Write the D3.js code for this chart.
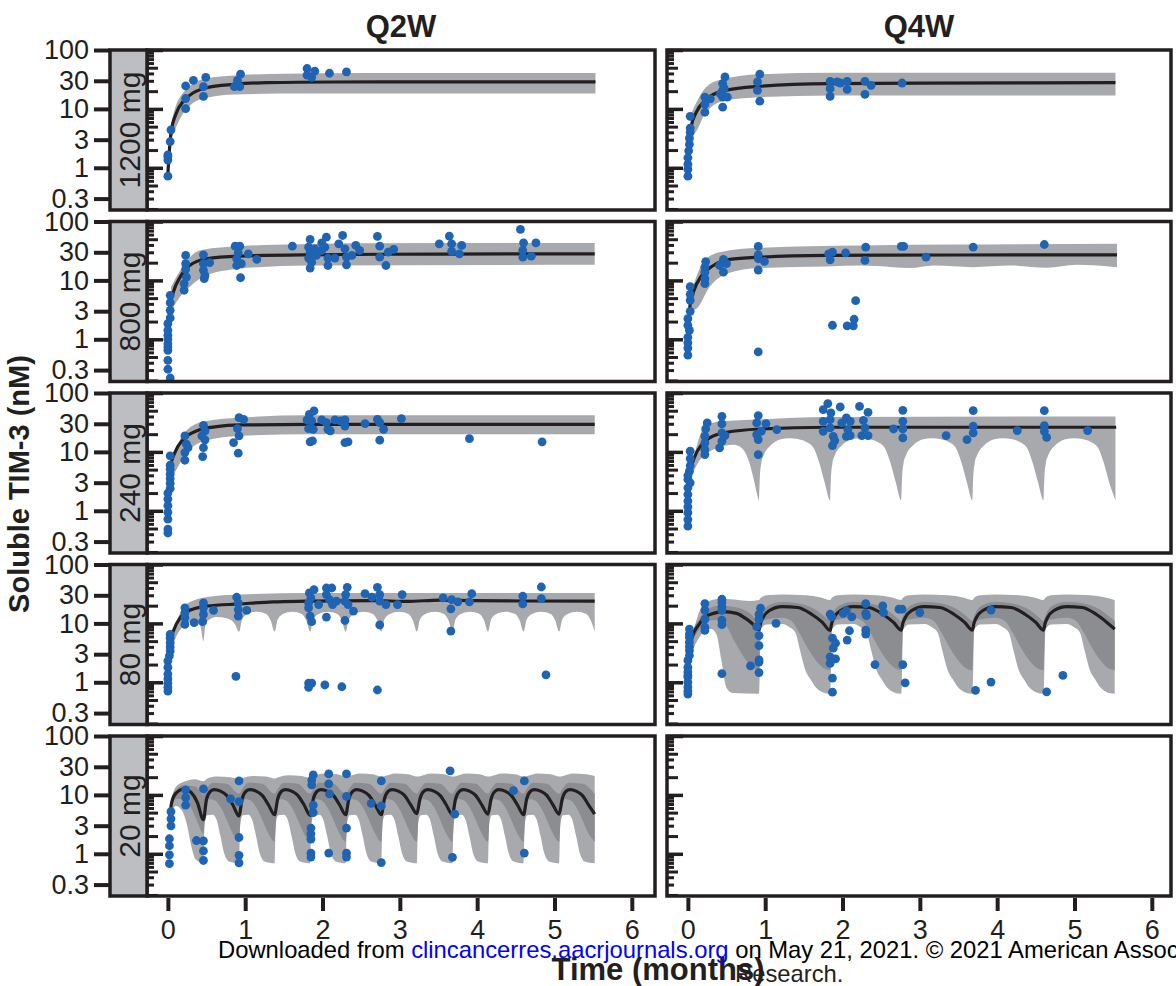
<!DOCTYPE html>
<html>
<head>
<meta charset="utf-8">
<script src="https://cdn.jsdelivr.net/npm/d3@7"></script>
<style>
body { margin: 0; background: #fff; }
svg { display: block; }
text { font-family: "Liberation Sans", Arial, sans-serif; fill: #231f20; }
</style>
</head>
<body>
<div id="chart"></div>
<script>
// facets
const doses = ["1200 mg", "800 mg", "240 mg", "80 mg", "20 mg"];
const regimens = ["Q2W", "Q4W"];

// axis ticks
const yLabelTicks = [0.3, 1, 3, 10, 30, 100];
const yMajorIn = [1, 10, 100];
const yMidIn = [0.2, 0.5, 2, 5, 20, 50];
const yMinorIn = [0.3, 0.4, 0.6, 0.7, 0.8, 0.9, 3, 4, 6, 7, 8, 9, 30, 40, 60, 70, 80, 90];
const xTicks = [0, 1, 2, 3, 4, 5, 6];

// ---- 1200 mg Q2W ----
const obs1200q2 = [[0,0.72],[0,1.35],[0,1.65],[0,1.54],[0.03,2.79],[0.04,4.42],[0.23,10.1],[0.23,15.0],[0.23,24.5],[0.33,30.6],[0.46,23.8],[0.46,16.3],[0.49,34.4],[0.86,23.8],[0.90,30.6],[0.93,23.8],[0.94,38.8],[1.80,48.5],[1.80,37.3],[1.86,34.4],[1.90,43.7],[2.09,40.3],[2.31,42.5]];
const med1200q2 = [[0,0.8],[0.02,2.0],[0.04,3.9],[0.11,8.5],[0.2,13.5],[0.33,18.8],[0.5,22.9],[0.85,26.1],[1.28,27.9],[2.14,28.6],[3.5,28.7],[5.53,28.7]];
const hi1200q2 = [[0.04,5.5],[0.1,11],[0.2,19],[0.33,27],[0.5,33],[0.85,37],[1.5,39.5],[2.5,40.5],[5.53,40.5]];
const lo1200q2 = [[0.04,3.0],[0.11,5.0],[0.2,8.5],[0.33,12.7],[0.5,15.4],[0.85,17.6],[1.7,18.2],[2.5,18.2],[5.53,18.2]];

// ---- 1200 mg Q4W ----
const obs1200q4 = [[0,0.72],[0,0.94],[0,1.14],[0,1.48],[0.01,1.94],[0.02,2.5],[0.02,3.18],[0.03,3.98],[0.03,4.72],[0.03,7.49],[0.22,8.77],[0.22,11.9],[0.22,15.8],[0.29,14.8],[0.45,10.7],[0.45,15.8],[0.45,20.6],[0.45,26.8],[0.48,34.9],[0.51,15.8],[0.42,18.0],[0.47,22.5],[0.93,13.5],[0.90,20.6],[0.90,28.7],[0.93,38.8],[1.84,16.3],[1.84,22.0],[1.84,29.4],[1.93,28.7],[1.97,27.5],[2.06,21.4],[2.06,29.4],[2.29,17.6],[2.29,29.4],[2.37,25.1],[2.77,27.5]];
const med1200q4 = [[0,0.94],[0.04,4.85],[0.11,8.8],[0.22,13.9],[0.48,20.6],[0.93,24.2],[1.84,26.8],[3,27.3],[5.53,27.9]];
const hi1200q4 = [[0.04,8.2],[0.2,20.6],[0.4,30.6],[0.93,38.8],[1.86,40.9],[5.53,41]];
const lo1200q4 = [[0.04,3.5],[0.1,4],[0.22,8.2],[0.48,13.9],[0.93,15.8],[1.86,16.9],[5.53,16.9]];

// ---- 800 mg Q2W ----
const obs800q2 = [[0.03,5.57],[0.03,4.18],[0.03,3.1],[0.03,2.3],[0,1.84],[0,1.42],[0,1.17],[0,1.0],[0,0.84],[0,0.65],[0,0.44],[0,0.31],[0.03,0.22],[0,0.74],
  [0.23,26.5],[0.23,19.2],[0.23,15.4],[0.24,11.4],[0.21,8.8],[0.21,6.8],
  [0.46,27.2],[0.46,19.2],[0.46,14.8],[0.48,12.1],[0.47,10.7],[0.54,20.0],
  [0.87,38.1],[0.93,38.1],[0.91,29.4],[0.89,23.3],[0.89,17.9],[0.95,19.2],[0.94,11.1],[1.04,28.3],[1.15,22.7],
  [1.61,38.1],
  [1.84,49.5],[1.82,36.7],[1.84,30.2],[1.82,23.9],[1.86,20.4],[1.84,16.2],[1.90,34.4],[1.92,26.5],
  [1.99,43.5],[2.05,54.2],[2.03,36.7],[1.99,32.2],[2.07,23.9],[2.07,17.9],[2.16,23.9],[2.21,41.7],[2.26,57.9],[2.29,34.4],[2.31,24.8],[2.31,18.4],[2.38,26.5],[2.43,39.2],[2.48,32.2],
  [2.71,55.8],[2.74,38.1],[2.74,24.8],[2.82,17.9],[2.85,30.2],[2.92,33.5],
  [3.51,41.7],[3.64,56.5],[3.67,41.7],[3.67,31.0],[3.77,28.3],[3.80,39.2],
  [4.56,73.3],[4.60,43.5],[4.59,32.2],[4.59,24.8],[4.70,25.8],[4.76,43.5]];
const med800q2 = [[0.02,2.5],[0.03,3.77],[0.07,6.3],[0.16,11.4],[0.28,17.9],[0.5,23.3],[0.93,25.8],[1.8,27.2],[3.5,28],[5.52,28.3]];
const hi800q2 = [[0.04,7.7],[0.2,17.9],[0.41,32.2],[0.72,36.7],[1.36,40.2],[2.66,42.9],[5.52,43]];
const lo800q2 = [[0.04,3.0],[0.11,4.3],[0.28,7.7],[0.5,12.2],[0.93,15.8],[1.8,17.9],[5.52,18.4]];

// ---- 800 mg Q4W ----
const obs800q4 = [[0,0.54],[0,0.71],[0,0.87],[0,1.08],[0.02,1.42],[0,1.73],[0,2.24],[0.03,2.98],[0.03,4.58],[0.03,5.79],[0.03,7.82],
  [0.22,8.78],[0.22,10.7],[0.22,13.8],[0.22,16.8],[0.23,20.9],
  [0.46,13.8],[0.46,22.7],[0.50,19.2],[0.41,17.9],
  [0.91,0.61],[0.91,15.0],[0.91,23.3],[0.91,27.2],[0.91,37.7],[0.99,21.0],
  [1.82,28.3],[1.87,30.2],[1.84,22.4],[1.87,1.73],[2.04,29.4],[2.06,1.69],[2.14,1.69],[2.15,2.19],[2.17,4.52],
  [2.30,36.7],[2.29,21.8],[2.76,37.7],[2.79,37.7],[3.08,24.8],[3.69,36.7],[4.61,40.7]];
const med800q4 = [[0.01,2.0],[0.03,4.0],[0.07,6.3],[0.18,12.2],[0.33,17.9],[0.54,22.7],[0.93,24.8],[1.8,26.5],[3.5,27],[5.55,27.2]];
const hi800q4 = [[0.04,6.3],[0.2,20.4],[0.41,30.2],[0.93,35.7],[2.23,39.2],[3.5,40.5],[5.55,41.7]];
const lo800q4 = [[0.04,3.1],[0.11,3.3],[0.28,7.7],[0.5,13.0],[0.93,16.2],[1.8,17.3],[2.23,17.9],[2.66,16.8],[2.87,16.2],[3.18,17.9],[3.69,16.8],[4.17,17.9],[4.64,16.4],[5.03,18.4],[5.55,16.8]];

// ---- 240 mg Q2W ----
const obs240q2 = [[0.03,8.55],[0.03,5.94],[0.03,5.08],[0.03,4.18],[0.03,3.53],[0.03,2.91],[0.03,2.39],[0,2.0],[0,1.58],[0,1.22],[0,0.94],[0,0.72],[0,0.49],[0,0.42],
  [0.22,18.7],[0.24,13.5],[0.26,11.8],[0.22,9.74],[0.22,7.22],
  [0.46,28.3],[0.48,22.7],[0.44,18.7],[0.48,16.0],[0.46,11.8],[0.45,8.34],
  [0.92,38.1],[0.98,35.7],[0.90,24.8],[0.92,18.7],[0.85,14.4],[0.91,9.5],
  [1.80,34.9],[1.83,43.5],[1.89,49.5],[1.86,33.5],[1.82,24.8],[1.88,24.2],[1.84,14.8],[1.87,15.4],
  [1.99,34.9],[2.05,31.4],[2.07,24.2],[2.10,22.7],[2.16,34.9],[2.23,33.5],[2.29,34.9],[2.29,27.5],[2.29,14.4],[2.33,14.8],
  [2.55,30.2],[2.71,35.7],[2.74,31.4],[2.79,24.2],[2.74,15.8],[3.02,36.7],[3.90,16.8],[4.84,14.8]];
const med240q2 = [[0.01,2.0],[0.03,5.4],[0.09,9.7],[0.2,16.4],[0.37,22.7],[0.63,26.8],[0.93,28.7],[1.8,29.4],[5.52,29.4]];
const hi240q2 = [[0.04,7.5],[0.16,16.4],[0.28,25.8],[0.5,33.5],[0.93,38.1],[1.8,41.7],[5.52,42]];
const lo240q2 = [[0.04,3.5],[0.09,4.47],[0.2,8.0],[0.37,13.5],[0.63,17.1],[0.93,18.7],[1.8,19.9],[5.52,19.9]];

// ---- 240 mg Q4W ----
const obs240q4 = [[0.03,10.3],[0.03,7.7],[0.03,5.86],[0.02,4.7],[0,3.97],[0,3.4],[0.03,2.98],[0,2.45],[0,1.89],[0,1.46],[0,1.17],[0,0.93],[0,0.71],[0,0.55],
  [0.22,9.0],[0.22,10.9],[0.22,14.2],[0.22,18.4],[0.23,24.5],[0.25,31.0],
  [0.41,11.7],[0.44,15.2],[0.44,21.0],[0.44,29.8],[0.44,40.2],[0.48,18.9],
  [0.91,9.0],[0.91,16.2],[0.89,19.7],[0.89,31.0],[0.91,41.3],[1.01,30.2],[0.95,22.4],[1.15,23.9],
  [1.75,52.2],[1.81,66.2],[1.85,45.9],[1.84,35.3],[1.75,33.0],[1.75,22.4],[1.84,25.5],[1.88,18.4],[1.87,12.8],[1.90,15.6],[1.97,57.9],[1.99,31.0],[2.05,37.7],[2.10,33.0],[2.07,23.9],[2.05,18.4],[2.10,18.9],
  [2.22,59.4],[2.33,46.9],[2.27,34.4],[2.29,25.5],[2.25,18.9],[2.33,18.9],
  [2.78,50.8],[2.78,33.0],[2.66,24.5],[2.78,24.5],[2.78,17.3],
  [3.34,18.9],[3.69,50.1],[3.69,27.3],[3.69,21.0],[3.61,16.2],[4.26,23.0],[4.61,50.1],[4.61,27.9],[4.61,22.4],[4.64,17.7],[5.17,23.0]];
const med240q4 = [[0.01,2.0],[0.03,4.4],[0.09,8.4],[0.18,13.3],[0.28,17.3],[0.5,21.5],[0.93,24.5],[1.8,26.2],[5.54,26.2]];
const hi240q4 = [[0.04,5.0],[0.11,12],[0.2,25],[0.41,33],[0.93,35.5],[1.8,39],[5.53,40]];
const lo240q4 = [[0.04,3.5],[0.1,5.5],[0.2,8.5],[0.3,10.5],[0.45,12.5],[0.6,13.2],[0.7,11.5],[0.78,7.5],[0.85,3.5],[0.9,1.8],[0.92,1.5],
  [0.93,3.5],[0.95,6.5],[0.975,8.4],[1.02,11],[1.06,12.5],[1.19,16.2],[1.32,17],[1.42,16.5],[1.52,15],[1.62,12],[1.70,6.5],[1.77,3.0],[1.84,1.5],
  [1.85,3.5],[1.87,6.5],[1.895,8.4],[1.94,11],[1.98,12.5],[2.11,16.2],[2.24,17],[2.34,16.5],[2.44,15],[2.54,12],[2.62,6.5],[2.69,3.0],[2.76,1.5],
  [2.77,3.5],[2.79,6.5],[2.815,8.4],[2.86,11],[2.90,12.5],[3.03,16.2],[3.16,17],[3.26,16.5],[3.36,15],[3.46,12],[3.54,6.5],[3.61,3.0],[3.68,1.5],
  [3.69,3.5],[3.71,6.5],[3.735,8.4],[3.78,11],[3.82,12.5],[3.95,16.2],[4.08,17],[4.18,16.5],[4.28,15],[4.38,12],[4.46,6.5],[4.53,3.0],[4.60,1.5],
  [4.61,3.5],[4.63,6.5],[4.655,8.4],[4.70,11],[4.74,12.5],[4.87,16.2],[5.00,17],[5.10,16.5],[5.20,15],[5.30,12],[5.38,6.5],[5.45,3.0],[5.53,1.5]];

// ---- 80 mg Q2W ----
const obs80q2 = [[0.03,6.5],[0.03,5.6],[0.03,4.7],[0.03,3.99],[0.03,3.4],[0.02,2.81],[0,2.32],[0,1.79],[0,1.38],[0,1.14],[0,0.96],[0,0.82],[0,0.71],
  [0.22,18.4],[0.22,15.1],[0.22,12.5],[0.22,9.6],[0.34,10.3],
  [0.46,22.3],[0.46,18.4],[0.46,14.2],[0.45,10.7],[0.59,16.6],
  [0.89,27.8],[0.91,22.3],[0.91,17.2],[0.91,13.3],[1.02,16.6],[0.88,1.26],
  [1.83,32.9],[1.85,27.1],[1.82,22.3],[1.82,18.4],[1.84,13.3],[1.86,10.7],[1.89,37.4],[1.95,20.9],[1.82,0.97],[1.82,0.82],[1.86,0.97],
  [2.05,39.9],[2.05,30.8],[2.09,25.4],[2.12,39.9],[2.13,20.9],[2.05,12.8],[2.03,0.9],[2.18,23.8],[2.25,0.84],
  [2.32,40.9],[2.30,30.8],[2.29,23.8],[2.33,20.9],[2.40,16.2],[2.29,11.2],
  [2.55,32.0],[2.64,27.8],[2.71,40.9],[2.74,30.8],[2.74,23.8],[2.74,9.4],[2.71,0.74],
  [2.82,20.9],[2.97,20.9],[3.03,30.8],
  [3.56,27.1],[3.67,25.4],[3.75,23.2],[3.66,17.7],[3.66,7.4],[3.90,23.2],[3.93,32.0],
  [4.59,28.9],[4.59,21.4],[4.83,41.5],[4.83,26.4],[4.89,1.34]];
const med80q2 = [[0.01,2.0],[0.03,5.0],[0.07,7.4],[0.16,12.5],[0.24,15.7],[0.5,19.6],[0.93,21.4],[1.36,23.2],[1.8,23.8],[2.66,24.4],[3.09,23.6],[3.52,24.9],[3.95,24.4],[4.6,24],[5.52,23.8]];
const hi80q2 = [[0.03,5.5],[0.11,10.9],[0.2,18.4],[0.33,24.4],[0.59,28.9],[0.93,30.8],[1.8,32.9],[5.52,32.9]];
const lo80q2 = [[0.03,3.0],[0.07,4.5],[0.15,7.5],[0.25,10],[0.35,11],[0.42,9],[0.46,5.0],
  [0.49,10.3],[0.63,12.8],[0.76,12.2],[0.87,9.6],[0.92,7.2],
  [0.96,11.7],[1.03,14.5],[1.15,15.7],[1.27,14.5],[1.33,11.2],[1.38,7.3],
  [1.42,11.7],[1.49,14.5],[1.61,15.7],[1.73,14.5],[1.79,11.2],[1.84,7.3],
  [1.88,11.7],[1.95,14.5],[2.07,15.7],[2.19,14.5],[2.25,11.2],[2.30,7.3],
  [2.34,11.7],[2.41,14.5],[2.53,15.7],[2.65,14.5],[2.71,11.2],[2.76,7.3],
  [2.80,11.7],[2.87,14.5],[2.99,15.7],[3.11,14.5],[3.17,11.2],[3.22,7.3],
  [3.26,11.7],[3.33,14.5],[3.45,15.7],[3.57,14.5],[3.63,11.2],[3.68,7.3],
  [3.72,11.7],[3.79,14.5],[3.91,15.7],[4.03,14.5],[4.09,11.2],[4.14,7.3],
  [4.18,11.7],[4.25,14.5],[4.37,15.7],[4.49,14.5],[4.55,11.2],[4.60,7.3],
  [4.64,11.7],[4.71,14.5],[4.83,15.7],[4.95,14.5],[5.01,11.2],[5.06,7.3],
  [5.10,11.7],[5.17,14.5],[5.29,15.7],[5.41,14.5],[5.47,11.2],[5.52,7.3]];

// ---- 80 mg Q4W ----
const obs80q4 = [[0.02,8.0],[0.02,6.6],[0.02,5.8],[0.02,4.8],[0.02,4.05],[0.02,3.45],[0.02,2.85],[0,2.35],[0,1.8],[0,1.5],[0,1.31],[0,1.23],[0,1.0],[0,0.83],[0,0.71],[0,0.63],
  [0.22,21.7],[0.22,16.7],[0.22,11.8],[0.22,8.6],[0.22,7.6],
  [0.44,25.7],[0.44,22.6],[0.44,19.1],[0.44,16.7],[0.44,11.4],[0.44,9.5],[0.44,1.4],
  [0.89,8.8],[0.92,11.8],[0.92,14.3],[0.94,18.1],[0.92,6.2],[0.92,4.2],[0.92,2.4],[0.92,2.2],[0.92,1.46],[0.81,1.9],[1.14,10.0],
  [1.84,14.3],[1.86,12.9],[2.01,14.8],[2.05,16.4],[2.12,12.9],[1.87,5.6],[1.91,4.6],[1.88,3.8],[1.84,2.7],[1.91,2.5],[1.84,2.1],[1.87,1.18],[1.87,0.68],[2.09,7.5],[2.06,5.2],
  [2.30,21.7],[2.30,14.8],[2.31,13.5],[2.30,7.7],[2.30,6.6],[2.42,2.0],
  [2.52,19.8],[2.53,15.3],[2.73,17.4],[2.77,17.4],[2.78,2.0],[2.81,0.98],
  [3.00,15.3],[3.92,16.8],[3.72,0.73],[3.92,1.01],[4.64,0.69],[4.85,1.31]];
const med80q4 = [[0.01,2.0],[0.02,3.7],[0.07,6.6],[0.13,9.1],[0.22,12.6],[0.33,14.8],[0.46,15.9],[0.63,14.8],[0.76,11.8],[0.85,9.5],[0.92,7.8],
  [0.94,10],[0.97,12.5],[1.05,16.4],[1.22,19.3],[1.42,18.6],[1.60,14.3],[1.74,10.4],[1.84,7.6],
  [1.86,10],[1.89,12.5],[1.97,16.4],[2.14,19.3],[2.34,18.6],[2.52,14.3],[2.66,10.4],[2.76,7.7],
  [2.78,10],[2.81,12.5],[2.89,16.4],[3.06,19.3],[3.26,18.6],[3.44,14.3],[3.58,10.4],[3.68,7.7],
  [3.70,10],[3.73,12.5],[3.81,16.4],[3.98,19.3],[4.18,18.6],[4.36,14.3],[4.50,10.4],[4.60,7.7],
  [4.62,10],[4.65,12.5],[4.73,16.4],[4.90,19.3],[5.10,18.6],[5.28,14.3],[5.42,10.4],[5.52,8.0]];
const hi80q4 = [[0.02,3.5],[0.07,7],[0.15,16],[0.22,22],[0.4,26],[0.6,25.5],[0.8,24],[0.92,25],
  [0.94,27],[1.02,30],[1.22,31],[1.52,30],[1.72,27.5],[1.84,25],
  [1.86,27],[1.94,30],[2.14,31],[2.44,30],[2.64,27.5],[2.76,25],
  [2.78,27],[2.86,30],[3.06,31],[3.36,30],[3.56,27.5],[3.68,25],
  [3.70,27],[3.78,30],[3.98,31],[4.28,30],[4.48,27.5],[4.60,25],
  [4.62,27],[4.70,30],[4.90,31],[5.20,30],[5.40,27.5],[5.52,25]];
const midHi80q4 = [[0.02,3.0],[0.07,7.5],[0.15,12],[0.22,16],[0.4,20],[0.6,19],[0.8,15],[0.92,11],
  [0.94,13],[0.97,16],[1.07,21],[1.22,23],[1.42,22],[1.62,18],[1.77,13],[1.84,11],
  [1.86,13],[1.89,16],[1.99,21],[2.14,23],[2.34,22],[2.54,18],[2.69,13],[2.76,11],
  [2.78,13],[2.81,16],[2.91,21],[3.06,23],[3.26,22],[3.46,18],[3.61,13],[3.68,11],
  [3.70,13],[3.73,16],[3.83,21],[3.98,23],[4.18,22],[4.38,18],[4.53,13],[4.60,11],
  [4.62,13],[4.65,16],[4.75,21],[4.90,23],[5.10,22],[5.30,18],[5.45,13],[5.52,11]];
const midLo80q4 = [[0.02,2.6],[0.07,5],[0.15,8],[0.22,10.5],[0.4,11.5],[0.5,9],[0.6,5],[0.7,3],[0.8,2],[0.92,1.6],
  [0.94,9],[1.00,11.5],[1.22,12.5],[1.34,11],[1.44,7],[1.54,4],[1.64,2.5],[1.74,1.8],[1.84,1.6],
  [1.86,9],[1.92,11.5],[2.14,12.5],[2.26,11],[2.36,7],[2.46,4],[2.56,2.5],[2.66,1.8],[2.76,1.6],
  [2.78,9],[2.84,11.5],[3.06,12.5],[3.18,11],[3.28,7],[3.38,4],[3.48,2.5],[3.58,1.8],[3.68,1.6],
  [3.70,9],[3.76,11.5],[3.98,12.5],[4.10,11],[4.20,7],[4.30,4],[4.40,2.5],[4.50,1.8],[4.60,1.6],
  [4.62,9],[4.68,11.5],[4.90,12.5],[5.02,11],[5.12,7],[5.22,4],[5.32,2.5],[5.42,1.8],[5.52,1.6]];
const lo80q4 = [[0.02,2.5],[0.1,4.5],[0.2,7],[0.3,8],[0.37,6.5],[0.43,2.5],[0.5,0.8],[0.58,0.66],[0.92,0.64],
  [0.945,8.0],[1.02,9.6],[1.22,9.8],[1.32,8.5],[1.39,7.0],[1.45,3.5],[1.52,1.6],[1.59,1.1],[1.65,0.83],[1.74,0.68],[1.84,0.64],
  [1.865,8.0],[1.94,9.6],[2.14,9.8],[2.24,8.5],[2.31,7.0],[2.37,3.5],[2.44,1.6],[2.51,1.1],[2.57,0.83],[2.66,0.68],[2.76,0.64],
  [2.785,8.0],[2.86,9.6],[3.06,9.8],[3.16,8.5],[3.23,7.0],[3.29,3.5],[3.36,1.6],[3.43,1.1],[3.49,0.83],[3.58,0.68],[3.68,0.64],
  [3.705,8.0],[3.78,9.6],[3.98,9.8],[4.08,8.5],[4.15,7.0],[4.21,3.5],[4.28,1.6],[4.35,1.1],[4.41,0.83],[4.50,0.68],[4.60,0.64],
  [4.625,8.0],[4.70,9.6],[4.90,9.8],[5.00,8.5],[5.07,7.0],[5.13,3.5],[5.20,1.6],[5.27,1.1],[5.33,0.83],[5.42,0.68],[5.52,0.64]];

// ---- 20 mg Q2W ----
const obs20q2 = [[0.02,0.68],[0.02,0.96],[0.02,1.37],[0.02,1.80],[0.04,2.98],[0.04,3.92],[0.04,5.22],
  [0.23,12.2],[0.23,9.0],[0.23,6.7],[0.37,1.68],
  [0.46,12.6],[0.46,1.66],[0.46,1.12],[0.46,0.77],[0.81,8.56],
  [0.92,17.3],[0.92,7.7],[0.92,1.89],[0.92,0.94],[0.92,0.70],
  [1.88,21.8],[1.86,17.9],[1.86,14.8],[1.88,6.7],[1.88,5.0],[1.85,2.73],[1.85,2.18],[1.85,1.77],[1.85,1.03],[1.85,0.88],
  [2.08,22.7],[2.08,15.4],[2.09,10.4],[2.08,1.03],
  [2.31,22.7],[2.31,9.4],[2.31,2.73],[2.31,1.03],[2.31,0.88],
  [2.63,7.2],[2.76,17.3],[2.76,6.5],[2.76,0.71],
  [3.65,25.5],[3.71,4.7],[3.68,0.87],[4.47,11.8],[4.61,17.3],[4.61,1.03]];
const med20q2 = [[0.02,4.3],[0.05,7.5],[0.1,10.5],[0.21,12.6],[0.3,11.0],[0.38,7.5],[0.46,3.8],
  [0.50,8.5],[0.55,11.5],[0.60,12.3],[0.68,11.6],[0.76,9.8],[0.84,6.8],[0.92,4.4],
  [0.96,8.5],[1.01,11.5],[1.06,12.3],[1.14,11.6],[1.22,9.8],[1.30,6.8],[1.38,4.6],
  [1.42,8.5],[1.47,11.5],[1.52,12.3],[1.60,11.6],[1.68,9.8],[1.76,6.8],[1.84,4.5],
  [1.88,8.5],[1.93,11.5],[1.98,12.3],[2.06,11.6],[2.14,9.8],[2.22,6.8],[2.30,4.6],
  [2.34,8.5],[2.39,11.5],[2.44,12.3],[2.52,11.6],[2.60,9.8],[2.68,6.8],[2.76,4.6],
  [2.80,8.5],[2.85,11.5],[2.90,12.3],[2.98,11.6],[3.06,9.8],[3.14,6.8],[3.22,4.8],
  [3.26,8.5],[3.31,11.5],[3.36,12.3],[3.44,11.6],[3.52,9.8],[3.60,6.8],[3.68,4.6],
  [3.72,8.5],[3.77,11.5],[3.82,12.3],[3.90,11.6],[3.98,9.8],[4.06,6.8],[4.14,4.7],
  [4.18,8.5],[4.23,11.5],[4.28,12.3],[4.36,11.6],[4.44,9.8],[4.52,6.8],[4.60,4.6],
  [4.64,8.5],[4.69,11.5],[4.74,12.3],[4.82,11.6],[4.90,9.8],[4.98,6.8],[5.06,4.7],
  [5.10,8.5],[5.15,11.5],[5.20,12.3],[5.28,11.6],[5.36,9.8],[5.44,6.8],[5.52,4.7]];
const hi20q2 = [[0.02,5.5],[0.05,9],[0.1,13.5],[0.2,16.5],[0.35,18.5],[0.46,17],
  [0.51,19],[0.64,20.5],[0.81,20],[0.92,18.5],
  [0.97,19.5],[1.10,21],[1.27,20.5],[1.38,19],
  [1.43,20],[1.56,21.5],[1.73,21],[1.84,19.5],
  [1.89,21],[2.02,23],[2.19,22.5],[2.30,20.5],
  [2.35,21],[2.48,23],[2.65,22.5],[2.76,20.5],
  [2.81,21],[2.94,23],[3.11,22.5],[3.22,20.5],
  [3.27,21],[3.40,23],[3.57,22.5],[3.68,20.5],
  [3.73,21],[3.86,23],[4.03,22.5],[4.14,20.5],
  [4.19,21],[4.32,23],[4.49,22.5],[4.60,20.5],
  [4.65,21],[4.78,23],[4.95,22.5],[5.06,20.5],
  [5.11,21],[5.24,23],[5.41,22.5],[5.52,21]];
const midHi20q2 = [[0.02,5],[0.05,8.5],[0.1,12],[0.2,14.5],[0.35,14],[0.46,10],
  [0.50,12.5],[0.58,16],[0.76,15.5],[0.92,10.5],
  [0.96,12.5],[1.04,16],[1.22,15.5],[1.38,10.5],
  [1.42,12.5],[1.50,16],[1.68,15.5],[1.84,10.5],
  [1.88,12.5],[1.96,16],[2.14,15.5],[2.30,10.5],
  [2.34,12.5],[2.42,16],[2.60,15.5],[2.76,10.5],
  [2.80,12.5],[2.88,16],[3.06,15.5],[3.22,10.5],
  [3.26,12.5],[3.34,16],[3.52,15.5],[3.68,10.5],
  [3.72,12.5],[3.80,16],[3.98,15.5],[4.14,10.5],
  [4.18,12.5],[4.26,16],[4.44,15.5],[4.60,10.5],
  [4.64,12.5],[4.72,16],[4.90,15.5],[5.06,10.5],
  [5.10,12.5],[5.18,16],[5.36,15.5],[5.52,10.5]];
const midLo20q2 = [[0.02,3.8],[0.05,6],[0.1,8.5],[0.2,8.5],[0.3,6],[0.38,3.5],[0.46,2.2],
  [0.49,6],[0.54,8.5],[0.61,8],[0.68,6.2],[0.76,3.8],[0.84,2.2],[0.92,1.6],
  [0.95,6],[1.00,8.5],[1.07,8],[1.14,6.2],[1.22,3.8],[1.30,2.2],[1.38,1.6],
  [1.41,6],[1.46,8.5],[1.53,8],[1.60,6.2],[1.68,3.8],[1.76,2.2],[1.84,1.6],
  [1.87,6],[1.92,8.5],[1.99,8],[2.06,6.2],[2.14,3.8],[2.22,2.2],[2.30,1.6],
  [2.33,6],[2.38,8.5],[2.45,8],[2.52,6.2],[2.60,3.8],[2.68,2.2],[2.76,1.6],
  [2.79,6],[2.84,8.5],[2.91,8],[2.98,6.2],[3.06,3.8],[3.14,2.2],[3.22,1.6],
  [3.25,6],[3.30,8.5],[3.37,8],[3.44,6.2],[3.52,3.8],[3.60,2.2],[3.68,1.6],
  [3.71,6],[3.76,8.5],[3.83,8],[3.90,6.2],[3.98,3.8],[4.06,2.2],[4.14,1.6],
  [4.17,6],[4.22,8.5],[4.29,8],[4.36,6.2],[4.44,3.8],[4.52,2.2],[4.60,1.6],
  [4.63,6],[4.68,8.5],[4.75,8],[4.82,6.2],[4.90,3.8],[4.98,2.2],[5.06,1.6],
  [5.09,6],[5.14,8.5],[5.21,8],[5.28,6.2],[5.36,3.8],[5.44,2.2],[5.52,1.6]];
const lo20q2 = [[0.02,3.5],[0.05,5],[0.1,6.5],[0.18,5.5],[0.25,3],[0.3,1.4],[0.36,0.8],[0.46,0.7],
  [0.475,3.2],[0.51,4.5],[0.58,4.6],[0.63,3.8],[0.68,2.0],[0.73,1.0],[0.79,0.74],[0.92,0.69],
  [0.935,3.2],[0.97,4.5],[1.04,4.6],[1.09,3.8],[1.14,2.0],[1.19,1.0],[1.25,0.74],[1.38,0.69],
  [1.395,3.2],[1.43,4.5],[1.50,4.6],[1.55,3.8],[1.60,2.0],[1.65,1.0],[1.71,0.74],[1.84,0.69],
  [1.855,3.2],[1.89,4.5],[1.96,4.6],[2.01,3.8],[2.06,2.0],[2.11,1.0],[2.17,0.74],[2.30,0.69],
  [2.315,3.2],[2.35,4.5],[2.42,4.6],[2.47,3.8],[2.52,2.0],[2.57,1.0],[2.63,0.74],[2.76,0.69],
  [2.775,3.2],[2.81,4.5],[2.88,4.6],[2.93,3.8],[2.98,2.0],[3.03,1.0],[3.09,0.74],[3.22,0.69],
  [3.235,3.2],[3.27,4.5],[3.34,4.6],[3.39,3.8],[3.44,2.0],[3.49,1.0],[3.55,0.74],[3.68,0.69],
  [3.695,3.2],[3.73,4.5],[3.80,4.6],[3.85,3.8],[3.90,2.0],[3.95,1.0],[4.01,0.74],[4.14,0.69],
  [4.155,3.2],[4.19,4.5],[4.26,4.6],[4.31,3.8],[4.36,2.0],[4.41,1.0],[4.47,0.74],[4.60,0.69],
  [4.615,3.2],[4.65,4.5],[4.72,4.6],[4.77,3.8],[4.82,2.0],[4.87,1.0],[4.93,0.74],[5.06,0.69],
  [5.075,3.2],[5.11,4.5],[5.18,4.6],[5.23,3.8],[5.28,2.0],[5.33,1.0],[5.39,0.74],[5.52,0.69]];

// colours
const cOuter = "#a7a9ac", cInner = "#8b8d90", cLine = "#231f20", cPoint = "#1f63b3", cStrip = "#bcbec1", cInk = "#231f20";

// each band = [upper edge, lower edge, fill]; outer band first, inner band over it
const panels = [
  {row: 0, col: 0, obs: obs1200q2, med: med1200q2, bands: [[hi1200q2, lo1200q2, cOuter]]},
  {row: 0, col: 1, obs: obs1200q4, med: med1200q4, bands: [[hi1200q4, lo1200q4, cOuter]]},
  {row: 1, col: 0, obs: obs800q2, med: med800q2, bands: [[hi800q2, lo800q2, cOuter]]},
  {row: 1, col: 1, obs: obs800q4, med: med800q4, bands: [[hi800q4, lo800q4, cOuter]]},
  {row: 2, col: 0, obs: obs240q2, med: med240q2, bands: [[hi240q2, lo240q2, cOuter]]},
  {row: 2, col: 1, obs: obs240q4, med: med240q4, bands: [[hi240q4, lo240q4, cOuter]]},
  {row: 3, col: 0, obs: obs80q2, med: med80q2, bands: [[hi80q2, lo80q2, cOuter]]},
  {row: 3, col: 1, obs: obs80q4, med: med80q4, bands: [[hi80q4, lo80q4, cOuter], [midHi80q4, midLo80q4, cInner]]},
  {row: 4, col: 0, obs: obs20q2, med: med20q2, bands: [[hi20q2, lo20q2, cOuter], [midHi20q2, midLo20q2, cInner]]},
  {row: 4, col: 1, obs: [], med: [], bands: []}
];

const W = 1176, H = 986;
const colX = [147, 667], colW = [508, 504];
const ph = 160;
const rowTop = r => 50 + 171.5 * r;

const svg = d3.select("#chart").append("svg")
  .attr("width", W).attr("height", H);

const x = d3.scaleLinear().domain([-0.27, 6.3]).range([0, 508]);
const y = d3.scaleLog().domain([0.192, 100]).range([ph, 0]);

const line = d3.line()
  .x(d => x(d[0]))
  .y(d => y(d[1]))
  .curve(d3.curveMonotoneX);

// closed band: upper edge left to right, then lower edge right to left
function bandPath(hi, lo) {
  return line(hi) + "L" + line(lo.slice().reverse()).slice(1) + "Z";
}

function styleTicks(g, w) {
  g.select(".domain").remove();
  g.selectAll(".tick line").attr("stroke", cInk).attr("stroke-width", w);
}

panels.forEach((p, i) => {
  const g = svg.append("g")
    .attr("transform", `translate(${colX[p.col]},${rowTop(p.row)})`);

  svg.append("clipPath").attr("id", "clip" + i)
    .append("rect").attr("width", colW[p.col]).attr("height", ph);
  const inner = g.append("g").attr("clip-path", `url(#clip${i})`);

  p.bands.forEach(b => {
    inner.append("path")
      .attr("d", bandPath(b[0], b[1]))
      .attr("fill", b[2]);
  });

  if (p.med.length) {
    inner.append("path").datum(p.med)
      .attr("d", line)
      .attr("fill", "none")
      .attr("stroke", cLine)
      .attr("stroke-width", 3.2);
  }

  inner.selectAll("circle").data(p.obs).enter()
    .append("circle")
    .attr("cx", d => x(d[0]))
    .attr("cy", d => y(d[1]))
    .attr("r", 4.4)
    .attr("fill", cPoint);

  // inside ticks on the left edge
  [[yMajorIn, 16, 3.5], [yMidIn, 11, 3], [yMinorIn, 7, 3]].forEach(t => {
    g.append("g")
      .call(d3.axisRight(y).tickValues(t[0]).tickSize(t[1]).tickFormat(""))
      .call(s => styleTicks(s, t[2]));
  });

  g.append("rect")
    .attr("width", colW[p.col]).attr("height", ph)
    .attr("fill", "none")
    .attr("stroke", cInk)
    .attr("stroke-width", 3.5);
});

// strips and outer y axes on the left column
doses.forEach((d, r) => {
  const top = rowTop(r);
  svg.append("rect")
    .attr("x", 110).attr("y", top)
    .attr("width", 37).attr("height", ph)
    .attr("fill", cStrip)
    .attr("stroke", cInk)
    .attr("stroke-width", 3.5);
  svg.append("text")
    .attr("transform", `translate(129,${top + ph / 2}) rotate(-90)`)
    .attr("text-anchor", "middle")
    .attr("dy", "0.36em")
    .style("font-size", "30px")
    .text(d);

  const ax = svg.append("g")
    .attr("transform", `translate(110,${top})`)
    .call(d3.axisLeft(y).tickValues(yLabelTicks).tickSize(16).tickPadding(5).tickFormat(d3.format("")));
  styleTicks(ax, 4);
  ax.selectAll("text").style("font-size", "27px").attr("fill", cInk)
    .style("font-family", "'Liberation Sans', Arial, sans-serif");
});

// x axes under the bottom row
colX.forEach(cx => {
  const ax = svg.append("g")
    .attr("transform", `translate(${cx},${rowTop(4) + ph + 2})`)
    .call(d3.axisBottom(x).tickValues(xTicks).tickSize(13).tickPadding(9).tickFormat(d3.format("d")));
  styleTicks(ax, 4);
  ax.selectAll("text").style("font-size", "27px").attr("fill", cInk)
    .style("font-family", "'Liberation Sans', Arial, sans-serif");
});

// column titles
regimens.forEach((reg, c) => {
  svg.append("text")
    .attr("x", colX[c] + colW[c] / 2)
    .attr("y", 37)
    .attr("text-anchor", "middle")
    .style("font-size", "31px")
    .style("font-weight", "bold")
    .text(reg);
});

svg.append("text")
  .attr("transform", "translate(29,484) rotate(-90)")
  .attr("text-anchor", "middle")
  .style("font-size", "29px")
  .style("font-weight", "bold")
  .text("Soluble TIM-3 (nM)");

svg.append("text")
  .attr("x", 658).attr("y", 980)
  .attr("text-anchor", "middle")
  .style("font-size", "31px")
  .style("font-weight", "bold")
  .text("Time (months)");

// download stamp over the bottom
const stamp = svg.append("text")
  .attr("x", 218).attr("y", 958)
  .style("font-size", "23.8px")
  .attr("fill", "#000");
stamp.append("tspan").attr("fill", "#000").text("Downloaded from ");
stamp.append("tspan").attr("fill", "#0000ff").text("clincancerres.aacrjournals.org");
stamp.append("tspan").attr("fill", "#000").text(" on May 21, 2021. \u00a9 2021 American Association for Cancer");
svg.append("text")
  .attr("x", 735).attr("y", 982)
  .style("font-size", "23.8px")
  .attr("fill", "#000")
  .text("Research.");
</script>
</body>
</html>
